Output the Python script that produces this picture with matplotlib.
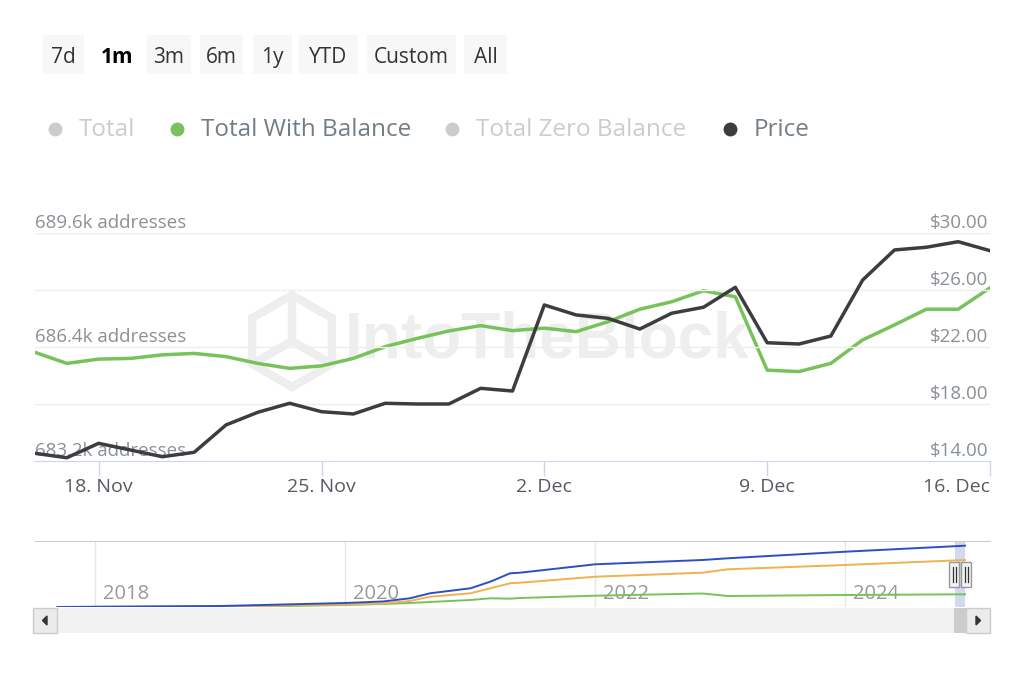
import numpy as np
import pandas as pd
import matplotlib
matplotlib.use("Agg")
import matplotlib.pyplot as plt
import matplotlib.dates as mdates
import matplotlib.patches as patches

plt.rcParams['font.family'] = ['Open Sans', 'DejaVu Sans']

# ---- data ----
dates = pd.date_range('2024-11-16', '2024-12-16', freq='D')
with_balance_k = [686.25, 685.94, 686.06, 686.08, 686.18, 686.22, 686.13, 685.94,
                  685.80, 685.87, 686.08, 686.41, 686.64, 686.85, 687.00, 686.86,
                  686.93, 686.83, 687.11, 687.46, 687.67, 687.98, 687.81, 685.75,
                  685.71, 685.94, 686.60, 687.02, 687.46, 687.46, 688.06]
price = [14.54, 14.23, 15.24, 14.77, 14.30, 14.61, 16.53, 17.42, 18.05, 17.46,
         17.30, 18.05, 18.00, 18.00, 19.10, 18.91, 24.95, 24.25, 24.01, 23.26,
         24.37, 24.79, 26.19, 22.30, 22.21, 22.77, 26.70, 28.81, 29.00, 29.39, 28.76]

x_ticks = ['2024-11-18', '2024-11-25', '2024-12-02', '2024-12-09', '2024-12-16']
addr_ticks = [683.2, 686.4, 689.6]
price_ticks = [14, 18, 22, 26, 30]

# navigator (whole history, thousands of addresses)
nav_dates = pd.to_datetime(['2017-09-13', '2019-01-01', '2019-05-05', '2020-01-01',
                            '2020-04-20', '2020-07-08', '2020-09-05', '2021-01-01',
                            '2021-02-28', '2021-04-27', '2021-05-26', '2022-01-01',
                            '2022-11-10', '2023-01-23', '2024-01-01', '2024-12-16'])
nav_total = [0, 54, 108, 216, 297, 470, 740, 1010, 1366, 1820, 1852, 2306, 2538, 2630, 2986, 3310]
nav_zero = [0, 27, 54, 135, 189, 324, 556, 740, 1010, 1280, 1312, 1636, 1852, 2036, 2268, 2538]
nav_with = [0, 16, 27, 108, 162, 216, 270, 378, 470, 450, 486, 610, 729, 594, 648, 686]
nav_years = [2018, 2020, 2022, 2024]

buttons = ['7d', '1m', '3m', '6m', '1y', 'YTD', 'Custom', 'All']
legend_items = ['Total', 'Total With Balance', 'Total Zero Balance', 'Price']

GREEN = '#78c25a'
DARK = '#3d3d3f'
W, H = 1024, 683

fig = plt.figure(figsize=(W / 100, H / 100), dpi=100)

def px_axes(z):
    a = fig.add_axes([0, 0, 1, 1], zorder=z)
    a.set_xlim(0, W)
    a.set_ylim(H, 0)
    a.axis('off')
    a.patch.set_alpha(0)
    return a

bg = px_axes(0)

# range selector buttons
btn_x = [(43, 84), (95, 140), (147, 191), (200, 243), (253, 292), (299, 358), (367, 456), (464, 507)]
for lab, (x0, x1) in zip(buttons, btn_x):
    if lab != '1m':
        bg.add_patch(patches.Rectangle((x0, 35), x1 - x0, 39, facecolor='#f7f7f7', edgecolor='none'))
    bg.text((x0 + x1) / 2, 57.5, lab, ha='center', va='center', fontsize=15,
            color='#000000' if lab == '1m' else '#333333',
            fontweight='bold' if lab == '1m' else 'normal')

# legend
leg_pos = [55, 177, 452, 730]
leg_dot = ['#cccccc', GREEN, '#cccccc', DARK]
leg_txt = ['#cccccc', '#737d84', '#cccccc', '#737d84']
for lab, xd, cd, ct in zip(legend_items, leg_pos, leg_dot, leg_txt):
    bg.plot([xd], [129], 'o', ms=10, color=cd, mec='none')
    bg.text(xd + 24, 130, lab, ha='left', va='center', fontsize=17.5, color=ct)

# watermark
wm = '#eeeeee'
hexagon = patches.RegularPolygon((292, 341), 6, radius=46, orientation=0,
                                 fill=False, edgecolor=wm, lw=6)
bg.add_patch(hexagon)
for a_ in np.deg2rad([90, 210, 330]):
    bg.plot([292, 292 + 40 * np.cos(a_)], [341, 341 - 40 * np.sin(a_)], color=wm, lw=6)
bg.text(345, 341, 'IntoTheBlock', ha='left', va='center', fontsize=46,
        fontweight='bold', color=wm, family=['Liberation Sans', 'DejaVu Sans'])

# scrollbar
bg.add_patch(patches.Rectangle((33, 608), 957, 25, facecolor='#f2f2f2', edgecolor='none'))
for x0 in (33, 966):
    bg.add_patch(patches.Rectangle((x0, 608), 24, 25, facecolor='#ebebeb', edgecolor='#cccccc', lw=1))
bg.add_patch(patches.Rectangle((954, 608), 12, 25, facecolor='#cccccc', edgecolor='none'))
bg.add_patch(patches.Polygon([[47, 616], [47, 625], [42.5, 620.5]], color='#333333'))
bg.add_patch(patches.Polygon([[976, 616], [976, 625], [980.5, 620.5]], color='#333333'))

# ---- main chart ----
ax = fig.add_axes([35 / W, 1 - 461 / H, 955 / W, 228 / H], zorder=1)
ax2 = ax.twinx()
ax2.set_zorder(2)
ax.patch.set_alpha(0)
ax2.patch.set_alpha(0)

ax.plot(dates, with_balance_k, color=GREEN, lw=2.5)
ax2.plot(dates, price, color=DARK, lw=2.5)

ax.set_xlim(dates[0], dates[-1])
ax.set_ylim(addr_ticks[0], addr_ticks[-1])
ax2.set_ylim(price_ticks[0], price_ticks[-1])

for a in (ax, ax2):
    for s in ('top', 'left', 'right'):
        a.spines[s].set_visible(False)
    a.set_yticks([])
ax2.spines['bottom'].set_visible(False)
ax.spines['bottom'].set_color('#ccd6eb')

for v in price_ticks[1:]:
    ax2.axhline(v, color='#eeeeee', lw=1, zorder=0)

xt = pd.to_datetime(x_ticks)
ax.set_xticks(xt)
ax.xaxis.set_major_formatter(mdates.DateFormatter('%-d. %b'))
ax.tick_params(axis='x', length=11, width=1, color='#ccd6eb', labelsize=14,
               labelcolor='#555b60', pad=1)
fig.canvas.draw()
ax.get_xticklabels()[-1].set_horizontalalignment('right')

for v in addr_ticks:
    ax.annotate(f'{v:.1f}k addresses', (0, v), xycoords=ax.get_yaxis_transform(),
                xytext=(0, 1), textcoords='offset points', ha='left', va='bottom',
                fontsize=13.5, color='#8a9096', zorder=0)
for v in price_ticks:
    ax2.annotate(f'${v:.2f}', (1, v), xycoords=ax2.get_yaxis_transform(),
                 xytext=(-1.5, 1), textcoords='offset points', ha='right', va='bottom',
                 fontsize=13.5, color='#8a9096')

# ---- navigator ----
nav = fig.add_axes([35 / W, 1 - 607 / H, 955 / W, 66 / H], zorder=1)
nav.plot(nav_dates, nav_with, color=GREEN, lw=1.4)
nav.plot(nav_dates, nav_zero, color='#f2b04e', lw=1.4)
nav.plot(nav_dates, nav_total, color='#2d4fc4', lw=1.4)
nav.set_xlim(pd.Timestamp('2017-07-09'), pd.Timestamp('2025-02-27'))
nav.set_ylim(0, 3564)
nav.set_xticks([])
nav.set_yticks([])
for s in ('left', 'right', 'bottom'):
    nav.spines[s].set_visible(False)
nav.spines['top'].set_color('#cccccc')
for yr in nav_years:
    d = mdates.date2num(pd.Timestamp(f'{yr}-01-01'))
    nav.axvline(d, color='#e6e6e6', lw=1, zorder=0)
    nav.annotate(str(yr), (d, 0.2), xycoords=nav.get_xaxis_transform(),
                 xytext=(5.5, 0), textcoords='offset points', ha='left', va='center',
                 fontsize=14.5, color='#999999', zorder=0)
nav.axvspan(dates[0], dates[-1], color=(102 / 255, 133 / 255, 194 / 255, 0.3), lw=0)

fg = px_axes(10)
for x0 in (949, 961):
    fg.add_patch(patches.Rectangle((x0, 562), 10, 25, facecolor='#f2f2f2', edgecolor='#999999', lw=1))
    for dx in (3.5, 6.5):
        fg.plot([x0 + dx, x0 + dx], [567, 582], color='#333333', lw=0.9)

fig.savefig('out.png', dpi=100)
